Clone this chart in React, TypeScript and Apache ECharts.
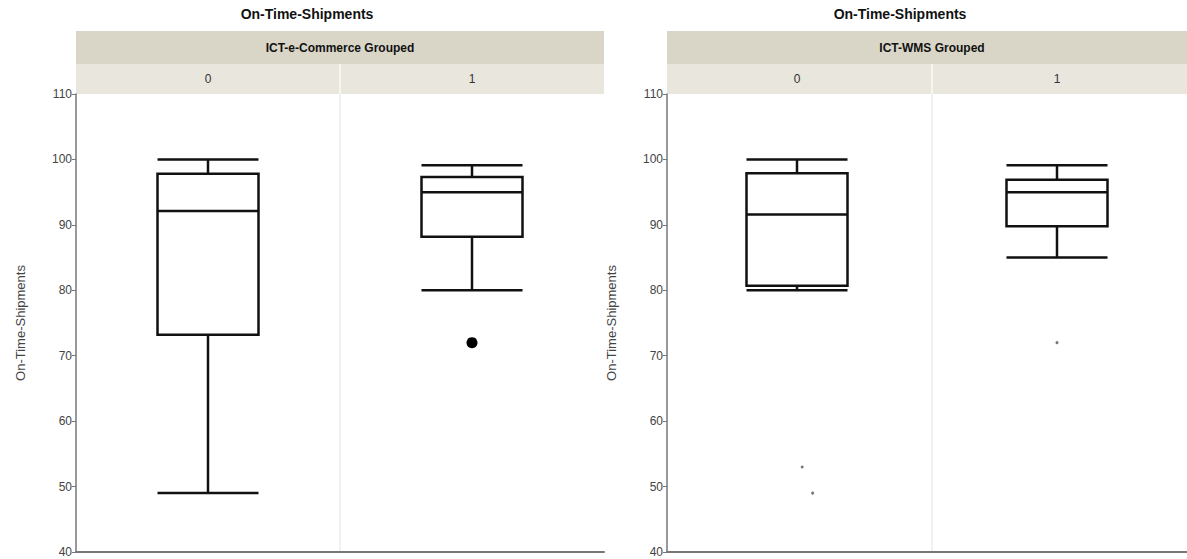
import React, { useEffect, useRef } from "react";
import * as echarts from "echarts";

// ---- data ----
const categories = ["0", "1"];
const yTicks = { min: 40, max: 110, interval: 10 };
const chartTitle = "On-Time-Shipments";
const yAxisName = "On-Time-Shipments";
const leftStrip = "ICT-e-Commerce Grouped";
const rightStrip = "ICT-WMS Grouped";
// [low whisker, Q1, median, Q3, high whisker]
const ecommerceBoxes = [
  [49, 73.2, 92.1, 97.8, 100],
  [80, 88.2, 95.0, 97.3, 99.1],
];
const wmsBoxes = [
  [80, 80.7, 91.6, 97.9, 100],
  [85, 89.8, 95.0, 96.9, 99.1],
];
// outliers: [x position (category index, with jitter), value]
const ecommerceOutliers = [[1, 72]];
const wmsOutliers = [
  [0.02, 53],
  [0.06, 49],
  [1.0, 72],
];

const FONT = "Liberation Sans, Arial, sans-serif";

export default function App() {
  const ref = useRef<HTMLDivElement>(null);
  useEffect(() => {
    if (!ref.current) return;
    const chart = echarts.init(ref.current, null, { renderer: "svg" });
    const TOP = 94;
    const BOTTOM_Y = 552;
    const H = BOTTOM_Y - TOP;
    const panels = [
      { left: 76, width: 528, strip: leftStrip, titleX: 307 },
      { left: 667, width: 530, strip: rightStrip, titleX: 900 },
    ];
    const graphic: any[] = [];
    panels.forEach((p) => {
      const mid = p.left + p.width / 2;
      graphic.push(
        {
          type: "text",
          x: p.titleX,
          y: 14,
          style: {
            text: chartTitle,
            fontFamily: FONT,
            fontSize: 14,
            fontWeight: "bold",
            fill: "#111",
            textAlign: "center",
            textVerticalAlign: "middle",
          },
        },
        {
          type: "rect",
          shape: { x: p.left, y: 31, width: p.width, height: 33 },
          style: { fill: "#d9d6c8" },
          z: 0,
        },
        {
          type: "rect",
          shape: { x: p.left, y: 64, width: p.width, height: TOP - 64 },
          style: { fill: "#e8e6dd" },
          z: 0,
        },
        {
          type: "text",
          x: mid,
          y: 48,
          style: {
            text: p.strip,
            fontFamily: FONT,
            fontSize: 12,
            fontWeight: "bold",
            fill: "#111",
            textAlign: "center",
            textVerticalAlign: "middle",
          },
          z: 1,
        },
        {
          type: "line",
          shape: { x1: mid, y1: 64, x2: mid, y2: TOP },
          style: { stroke: "#f6f5f0", lineWidth: 2 },
          z: 1,
        },
        {
          type: "line",
          shape: { x1: mid, y1: TOP, x2: mid, y2: BOTTOM_Y },
          style: { stroke: "#e3e3e3", lineWidth: 1 },
          z: 0,
        }
      );
    });

    const grids = panels.map((p) => ({
      left: p.left,
      top: TOP,
      width: p.width,
      height: H,
    }));

    const xAxes: any[] = [];
    const yAxes: any[] = [];
    panels.forEach((_, i) => {
      xAxes.push({
        type: "category",
        gridIndex: i,
        data: categories,
        position: "top",
        axisLine: { show: false },
        axisTick: { show: false },
        axisLabel: {
          margin: 9,
          color: "#333",
          fontFamily: FONT,
          fontSize: 12,
        },
        splitLine: { show: false },
      });
      xAxes.push({
        type: "value",
        gridIndex: i,
        min: -0.5,
        max: 1.5,
        position: "bottom",
        axisLine: { show: true, onZero: false, lineStyle: { color: "#777", width: 2 } },
        axisTick: { show: false },
        axisLabel: { show: false },
        splitLine: { show: false },
      });
      yAxes.push({
        type: "value",
        gridIndex: i,
        position: "left",
        min: yTicks.min,
        max: yTicks.max,
        interval: yTicks.interval,
        name: yAxisName,
        nameLocation: "middle",
        nameGap: 49,
        nameTextStyle: { color: "#444", fontFamily: FONT, fontSize: 13 },
        axisLine: { show: true, onZero: false, lineStyle: { color: "#777", width: 1.5 } },
        axisTick: { show: true, length: 4, lineStyle: { color: "#777" } },
        axisLabel: { color: "#444", fontFamily: FONT, fontSize: 12, margin: 4 },
        splitLine: { show: false },
      });
    });

    const boxData = [ecommerceBoxes, wmsBoxes];
    const outlierData = [ecommerceOutliers, wmsOutliers];
    const series: any[] = [];
    [0, 1].forEach((i) => {
      series.push({
        type: "boxplot",
        xAxisIndex: i * 2,
        yAxisIndex: i,
        data: boxData[i],
        boxWidth: [101, 101],
        itemStyle: { color: "transparent", borderColor: "#111", borderWidth: 2.5 },
        silent: true,
      });
      series.push({
        type: "scatter",
        xAxisIndex: i * 2 + 1,
        yAxisIndex: i,
        data: outlierData[i],
        symbol: "circle",
        symbolSize: i === 0 ? 11 : 3,
        itemStyle: { color: i === 0 ? "#000" : "#777", opacity: 1 },
        silent: true,
      });
    });

    chart.setOption({
      animation: false,
      backgroundColor: "#fff",
      grid: grids,
      xAxis: xAxes,
      yAxis: yAxes,
      series,
      graphic,
    });
    return () => chart.dispose();
  }, []);
  return (
    <div
      ref={ref}
      style={{ position: "fixed", left: 0, top: 0, width: 1187, height: 559 }}
    />
  );
}
